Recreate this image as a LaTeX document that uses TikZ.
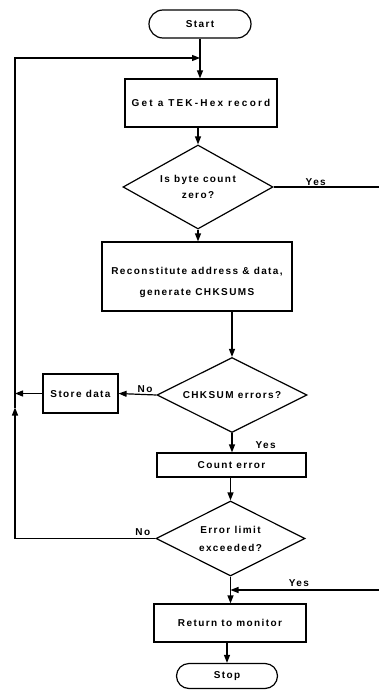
\documentclass[tikz,border=0pt]{standalone}
\usepackage{fontspec}
\setmainfont{Liberation Sans}[LetterSpace=14]
\usetikzlibrary{shapes.geometric,shapes.misc,arrows.meta,calc}
\begin{document}
\begin{tikzpicture}[x=1pt,y=-1pt,
 every node/.style={font=\fontsize{10}{16}\selectfont\bfseries},
 proc/.style={draw, line width=1.2pt, rectangle, inner sep=0pt, align=center},
 term/.style={draw, line width=1.2pt, rounded rectangle, inner sep=0pt},
 dec/.style={draw, line width=1.2pt, diamond, aspect=2, inner sep=0pt, align=center},
 conn/.style={line width=1.2pt},
 arr/.style={conn, -{Triangle[length=8pt,width=6pt]}},
 lbl/.style={inner sep=1pt}
]
\useasboundingbox (0,0) rectangle (379,690);
\node[term, minimum width=102pt, minimum height=28pt] (start) at (200,24) {Start};
\node[proc, minimum width=152pt, minimum height=48pt] (get) at (201,103) {\addfontfeature{LetterSpace=22}Get a TEK-Hex record};
\node[dec, minimum width=150pt, minimum height=84pt] (d1) at (198,187) {Is byte count\\zero?};
\node[proc, minimum width=190pt, minimum height=69pt] (rec) at (197,276.5) {\rule{0pt}{20pt}Reconstitute address \& data,\\[5pt]generate CHKSUMS};
\node[dec, minimum width=150pt, minimum height=75pt] (d2) at (232,395) {CHKSUM errors?};
\node[proc, minimum width=75pt, minimum height=39pt] (store) at (80.5,393.5) {Store data};
\node[proc, minimum width=149pt, minimum height=24pt] (count) at (231.5,465) {Count error};
\node[dec, minimum width=149pt, minimum height=75pt] (d3) at (230.5,538.5) {Error limit\\[2pt]exceeded?};
\node[proc, minimum width=152pt, minimum height=38pt] (ret) at (230,623) {Return to monitor};
\node[term, minimum width=101pt, minimum height=25pt] (stop) at (227,676) {Stop};

\coordinate (edgeR) at (379,0);
\coordinate (lt) at (15,58);
\coordinate (j1) at (start.south |- lt);
\coordinate (yes1) at (d1.east -| edgeR);
\coordinate (lb) at (d3.west -| lt);
\coordinate (upArr) at ($(store.west -| lt)+(0,14)$);
\coordinate (sj) at (store.west -| lt);
\coordinate (yes2r) at (379,590);
\coordinate (yes2j) at (d3.south |- yes2r);

\draw[arr] (start.south) -- (start.south |- get.north);
\draw[arr] (get.south -| d1.north) -- (d1.north);
\draw[conn] (d1.east) -- (yes1) node[lbl, pos=0.4, above] {Yes};
\draw[arr] (d1.south) -- (d1.south |- rec.north);
\draw[arr] (d2.north |- rec.south) -- (d2.north);
\draw[arr] (d2.west) -- (store.east) node[lbl, pos=0.3, above] {No};
\draw[arr] (store.west) -- (sj);
\draw[arr] (d2.south) -- (d2.south |- count.north) node[lbl, pos=0.6, anchor=west, xshift=22pt] {Yes};
\draw[arr] (count.south -| d3.north) -- (d3.north);
\draw[arr] (d3.west) -- (lb) -- (upArr);
\draw[arr] (upArr) -- (lt) -- (j1);
\node[lbl, anchor=south east] (no2) at ($(d3.west)+(-4,-2)$) {No};
\draw[arr] (d3.south) -- (d3.south |- ret.north);
\draw[arr] (yes2r) -- (yes2j) node[lbl, pos=0.54, above, yshift=2pt] {Yes};
\draw[arr] (ret.south -| stop.north) -- (stop.north);
\end{tikzpicture}
\end{document}
